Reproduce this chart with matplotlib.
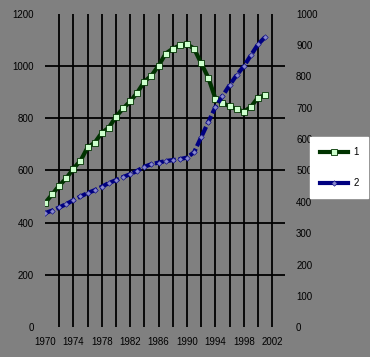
import numpy as np
import matplotlib
matplotlib.use("Agg")
import matplotlib.pyplot as plt
import matplotlib.lines as mlines

years = list(range(1970, 2002))
series_1 = [475, 508, 542, 570, 607, 637, 688, 706, 744, 764,
            806, 837, 864, 898, 940, 963, 1001, 1047, 1066, 1078,
            1083, 1066, 1010, 955, 875, 857, 846, 834, 825, 843,
            879, 887]
series_2 = [364, 372, 382, 393, 405, 417, 428, 437, 448, 460,
            469, 479, 488, 499, 512, 520, 525, 530, 533, 536,
            541, 558, 606, 654, 702, 737, 772, 804, 832, 867,
            902, 925]
labels = ["1", "2"]
xticks = list(range(1970, 2003, 4))
left_ticks = list(range(0, 1201, 200))
right_ticks = list(range(0, 1001, 100))

bg = "#808080"
plt.rcParams['font.family'] = ['Liberation Sans', 'DejaVu Sans']
fs = 7

fig = plt.figure(figsize=(3.70, 3.57), dpi=100, facecolor=bg)
ax = fig.add_axes([0.1216, 0.0832, 0.6486, 0.8787])
ax.set_facecolor(bg)
ax2 = ax.twinx()

# gridlines: horizontal every 200, vertical every 2 years
for v in range(200, 1001, 200):
    ax.axhline(v, color='k', lw=1.3, zorder=1)
for yr in range(1972, 2003, 2):
    ax.axvline(yr, color='k', lw=1.3, zorder=1)

ax.plot(years, series_1, color='#003300', lw=3, marker='s', ms=4.5,
        mfc='#ccffcc', mec='#003300', mew=0.6, zorder=3)
ax2.plot(years, series_2, color='#000080', lw=3, ls=(0, (2.2, 0.7)),
         marker='D', ms=2.8, mfc='#8888cc', mec='#000080', mew=0.4, zorder=3)

ax.set_xlim(1970, 2003.8)
ax.set_ylim(0, 1200)
ax2.set_ylim(0, 1000)
ax.set_xticks(xticks)
ax.set_yticks(left_ticks)
ax2.set_yticks(right_ticks)
ax.tick_params(axis='both', length=0, labelsize=fs, colors='k')
ax.tick_params(axis='y', pad=8)
ax.tick_params(axis='x', pad=7)
ax2.tick_params(axis='y', length=0, labelsize=fs, pad=8)
for a in (ax, ax2):
    for s in a.spines.values():
        s.set_visible(False)

handles = [
    mlines.Line2D([], [], color='#003300', lw=3, marker='s', ms=4.5,
                  mfc='#ccffcc', mec='#003300', mew=0.6, label=labels[0]),
    mlines.Line2D([], [], color='#000080', lw=3, marker='D', ms=2.8,
                  mfc='#8888cc', mec='#000080', mew=0.4, label=labels[1]),
]
leg = fig.legend(handles=handles, loc='center left', bbox_to_anchor=(0.826, 0.53),
                 fontsize=fs, frameon=True, fancybox=False, facecolor='white',
                 edgecolor='white', framealpha=1, handlelength=2.9,
                 labelspacing=2.2, borderpad=1.0, handletextpad=0.5)

fig.savefig("out.png", dpi=100, facecolor=bg)
